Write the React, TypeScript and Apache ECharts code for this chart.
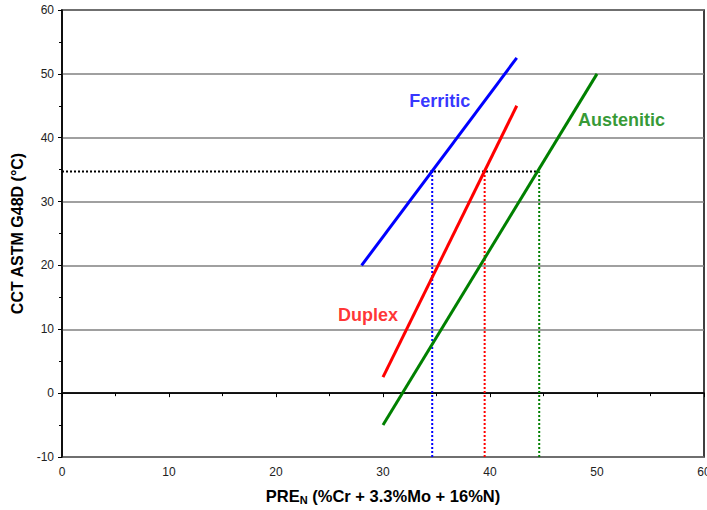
import React, { useEffect, useRef } from "react";
import * as echarts from "echarts";

const ferritic: [number, number][] = [[28, 20], [42.5, 52.5]];
const duplex: [number, number][] = [[30, 2.5], [42.5, 45]];
const austenitic: [number, number][] = [[30, -5], [50, 50]];
const cctLevel = 34.7;
const preFerritic = 34.6;
const preDuplex = 39.5;
const preAustenitic = 44.6;
const labels: { name: string; x: number; y: number; color: string }[] = [
  { name: "Ferritic", x: 35.3, y: 45.7, color: "#0000ff" },
  { name: "Duplex", x: 28.6, y: 12.3, color: "#ff0000" },
  { name: "Austenitic", x: 52.3, y: 42.7, color: "#008000" },
];

export default function App() {
  const ref = useRef<HTMLDivElement>(null);
  useEffect(() => {
    const chart = echarts.init(ref.current!, null, { renderer: "svg" });
    const font = "'Liberation Sans', Arial, sans-serif";
    const dotted = (data: [number, number][], color: string) => ({
      type: "line",
      data,
      symbol: "none",
      silent: true,
      lineStyle: { color, width: 2, type: [2, 2] },
    });
    chart.setOption({
      animation: false,
      textStyle: { fontFamily: font },
      grid: {
        left: 62,
        right: 3,
        top: 10,
        bottom: 53,
        show: true,
        borderColor: "#000",
        borderWidth: 1.5,
        outerBoundsMode: "none",
        containLabel: false,
      },
      xAxis: {
        type: "value",
        min: 0,
        max: 60,
        interval: 10,
        name: "{a|PRE}{s|N}{a| (%Cr + 3.3%Mo + 16%N)}",
        nameLocation: "middle",
        nameGap: 30,
        nameTextStyle: {
          rich: {
            a: { fontSize: 16.5, fontWeight: "bold", color: "#000", fontFamily: font },
            s: { fontSize: 11, fontWeight: "bold", color: "#000", fontFamily: font, padding: [7, 0, 0, 0] },
          },
        },
        axisLine: { show: true, lineStyle: { color: "#000", width: 1.5 } },
        axisTick: { show: true, inside: false, length: 4, lineStyle: { color: "#000" } },
        minorTick: { show: true, splitNumber: 2, length: 3, lineStyle: { color: "#000" } },
        axisLabel: { color: "#222", fontSize: 12, margin: 9, fontFamily: font },
        splitLine: { show: false },
      },
      yAxis: {
        type: "value",
        min: -10,
        max: 60,
        interval: 10,
        name: "CCT ASTM G48D (°C)",
        nameLocation: "middle",
        nameGap: 36,
        nameRotate: 90,
        nameTextStyle: { fontSize: 16, fontWeight: "bold", color: "#000", fontFamily: font },
        axisLine: { show: true, lineStyle: { color: "#000", width: 1.5 } },
        axisTick: { show: true, inside: false, length: 4, lineStyle: { color: "#000" } },
        minorTick: { show: true, splitNumber: 2, length: 3, lineStyle: { color: "#000" } },
        axisLabel: { color: "#222", fontSize: 12, margin: 8, fontFamily: font },
        splitLine: { show: true, lineStyle: { color: "#808080", width: 1.5 } },
      },
      series: [
        { type: "line", data: [[0, 0], [60, 0]], symbol: "none", silent: true, lineStyle: { color: "#000", width: 1 } },
        dotted([[0, cctLevel], [preAustenitic, cctLevel]], "#000"),
        dotted([[preFerritic, -10], [preFerritic, cctLevel]], "#0000ff"),
        dotted([[preDuplex, -10], [preDuplex, cctLevel]], "#ff0000"),
        dotted([[preAustenitic, -10], [preAustenitic, cctLevel]], "#008000"),
        { type: "line", data: ferritic, symbol: "none", lineStyle: { color: "#0000ff", width: 3 } },
        { type: "line", data: duplex, symbol: "none", lineStyle: { color: "#ff0000", width: 3 } },
        { type: "line", data: austenitic, symbol: "none", lineStyle: { color: "#008000", width: 3 } },
        {
          type: "scatter",
          symbolSize: 0,
          silent: true,
          data: labels.map((l) => ({
            value: [l.x, l.y],
            label: {
              show: true,
              position: "inside",
              formatter: l.name,
              color: l.color,
              fontSize: 18,
              fontWeight: "bold",
              fontFamily: font,
            },
          })),
        },
      ],
    });
    return () => chart.dispose();
  }, []);
  return <div ref={ref} style={{ width: 707, height: 510, position: "absolute", left: 0, top: 0 }} />;
}
